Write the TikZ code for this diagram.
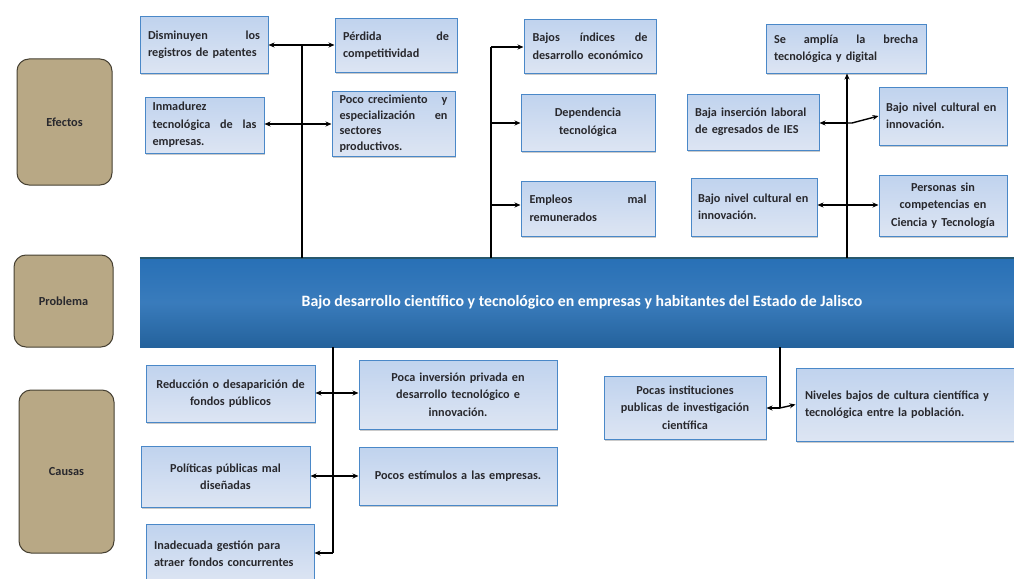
\documentclass[tikz,border=0pt]{standalone}
\usepackage{fontspec}
\setmainfont{Carlito}
\usetikzlibrary{arrows.meta,shadows}
\definecolor{bxA}{RGB}{192,211,238}
\definecolor{bxB}{RGB}{221,229,243}
\definecolor{bxL}{RGB}{74,136,200}
\definecolor{tanF}{RGB}{184,168,133}
\definecolor{tanL}{RGB}{70,64,50}
\definecolor{banA}{RGB}{40,112,182}
\definecolor{banB}{RGB}{36,98,156}
\definecolor{banT}{RGB}{40,88,110}
\definecolor{txt}{RGB}{40,40,45}
\tikzset{
 bx/.style={draw=bxL, line width=1pt, top color=bxA, bottom color=bxB, inner sep=0pt,
   font=\bfseries\fontsize{12.2}{17.5}\selectfont, text=txt,
   drop shadow={shadow xshift=1pt, shadow yshift=-1.5pt, opacity=0.35, fill=black!60}},
 lab/.style={draw=tanL, line width=1pt, fill=tanF, rounded corners=12pt, inner sep=0pt,
   font=\bfseries\fontsize{12.3}{14}\selectfont, text=txt},
 conn/.style={line width=1.4pt, black},
 arr/.style={conn, -{Stealth[length=6pt,width=5pt]}},
}
\begin{document}
\begin{tikzpicture}[x=1pt,y=-1pt]
\useasboundingbox (0,0) rectangle (1014,578);
\clip (0,0) rectangle (1014,578);
% labels
\node[lab, minimum width=95pt, minimum height=126pt] (ef) at (64.5,122) {Efectos};
\node[lab, minimum width=99pt, minimum height=92pt] (pr) at (63.5,301) {Problema};
\node[lab, minimum width=95pt, minimum height=163pt] (ca) at (66.5,471.5) {Causas};
% banner
\node[inner sep=0pt, minimum width=884pt, minimum height=89pt, top color=banA, bottom color=banB, middle color=banA!92!white,
  text=white, font=\bfseries\fontsize{15.8}{18}\selectfont] (ban) at (582,302.5)
  {Bajo desarrollo científico y tecnológico en empresas y habitantes del Estado de Jalisco};
\draw[banT, line width=1.5pt] (ban.north west) -- (ban.north east);
% effects
\node[bx, minimum width=128pt, minimum height=56pt, text width=112pt, align=left] (dism) at (204,45)
  {Disminuyen\hfill los\\registros de patentes};
\node[bx, minimum width=122pt, minimum height=53pt, text width=106pt, align=left] (perd) at (396,45.5)
  {Pérdida\hfill de\\competitividad};
\node[bx, minimum width=119pt, minimum height=56pt, text width=104pt, align=left] (inma) at (204.5,125)
  {Inmadurez\\tecnológica\hfill de\hfill las\\empresas.};
\node[bx, minimum width=123pt, minimum height=65pt, text width=108pt, align=left,
  font=\bfseries\fontsize{12.2}{15.5}\selectfont] (poco) at (393.5,123.5)
  {Poco crecimiento\hfill y\\especialización\hfill en\\sectores\\productivos.};
\node[bx, minimum width=132pt, minimum height=53pt, text width=115pt, align=left] (bajos) at (590,46.5)
  {Bajos\hfill índices\hfill de\\desarrollo económico};
\node[bx, minimum width=134pt, minimum height=57pt, text width=118pt, align=center] (depe) at (588,122.5)
  {Dependencia\\tecnológica};
\node[bx, minimum width=134pt, minimum height=55pt, text width=117pt, align=left] (empl) at (588,208.5)
  {Empleos\hfill mal\\remunerados};
\node[bx, minimum width=160pt, minimum height=48pt, text width=144pt, align=left] (seam) at (846,49)
  {Se\hfill amplía\hfill la\hfill brecha\\tecnológica y digital};
\node[bx, minimum width=132pt, minimum height=56pt, text width=116pt, align=left] (baja) at (753,122)
  {Baja inserción laboral\\de egresados de IES};
\node[bx, minimum width=128pt, minimum height=58pt, text width=114pt, align=left] (bnr) at (943,116)
  {Bajo nivel cultural en\\innovación.};
\node[bx, minimum width=126pt, minimum height=58pt, text width=112pt, align=left] (bnl) at (754,207)
  {Bajo nivel cultural en\\innovación.};
\node[bx, minimum width=128pt, minimum height=61pt, text width=122pt, align=center] (pers) at (943,205.5)
  {Personas sin\\competencias en\\Ciencia y Tecnología};
% causes
\node[bx, minimum width=169pt, minimum height=57pt, text width=160pt, align=center] (redu) at (230.5,393.5)
  {Reducción o desaparición de\\fondos públicos};
\node[bx, minimum width=198pt, minimum height=69pt, text width=186pt, align=center] (pinv) at (458,394.5)
  {Poca inversión privada en\\desarrollo tecnológico e\\innovación.};
\node[bx, minimum width=169pt, minimum height=61pt, text width=160pt, align=center] (poli) at (225.5,476.5)
  {Políticas públicas mal\\diseñadas};
\node[bx, minimum width=198pt, minimum height=58pt, text width=186pt, align=center] (pest) at (458,476)
  {Pocos estímulos a las empresas.};
\node[bx, minimum width=168pt, minimum height=59pt, text width=152pt, align=left] (inad) at (230,553.5)
  {Inadecuada gestión para\\atraer fondos concurrentes};
\node[bx, minimum width=162pt, minimum height=63pt, text width=154pt, align=center] (pins) at (685,407.5)
  {Pocas instituciones\\publicas de investigación\\científica};
\node[bx, minimum width=228pt, minimum height=73pt, text width=210pt, align=left] (nive) at (910,404.5)
  {Niveles bajos de cultura científica y\\tecnológica entre la población.};
% connectors: effects left trunk
\coordinate (a1) at (302,45);
\coordinate (a2) at (302,124);
\draw[conn] (a1) -- (a1 |- ban.north);
\draw[arr] (a1) -- (a1 -| dism.east);
\draw[arr] (a1) -- (a1 -| perd.west);
\draw[arr] (a2) -- (a2 -| inma.east);
\draw[arr] (a2) -- (a2 -| poco.west);
% middle trunk
\coordinate (b1) at (491,47);
\coordinate (b2) at (491,123);
\coordinate (b3) at (491,205);
\draw[conn] (b1) -- (b1 |- ban.north);
\draw[arr] (b1) -- (b1 -| bajos.west);
\draw[arr] (b2) -- (b2 -| depe.west);
\draw[arr] (b3) -- (b3 -| empl.west);
% right trunk
\coordinate (c1) at (847,123);
\coordinate (c2) at (847,205);
\draw[arr] (c1 |- ban.north) -- (c1 |- seam.south);
\draw[arr] (c1) -- (c1 -| baja.east);
\draw[arr] (c1) -- ++(5,0) -- (bnr.west);
\draw[arr] (c2) -- (c2 -| bnl.east);
\draw[arr] (c2) -- (c2 -| pers.west);
% causes trunk
\coordinate (d1) at (333,393);
\coordinate (d2) at (333,476);
\coordinate (d3) at (333,553);
\draw[conn] (d1 |- ban.south) -- (d3);
\draw[arr] (d1) -- (d1 -| redu.east);
\draw[arr] (d1) -- (d1 -| pinv.west);
\draw[arr] (d2) -- (d2 -| poli.east);
\draw[arr] (d2) -- (d2 -| pest.west);
\draw[arr] (d3) -- (d3 -| inad.east);
% right causes trunk
\coordinate (e1) at (780,408);
\draw[conn] (e1 |- ban.south) -- (e1);
\draw[arr] (e1) -- (e1 -| pins.east);
\draw[arr] (e1) -- (nive.west);
\end{tikzpicture}
\end{document}
